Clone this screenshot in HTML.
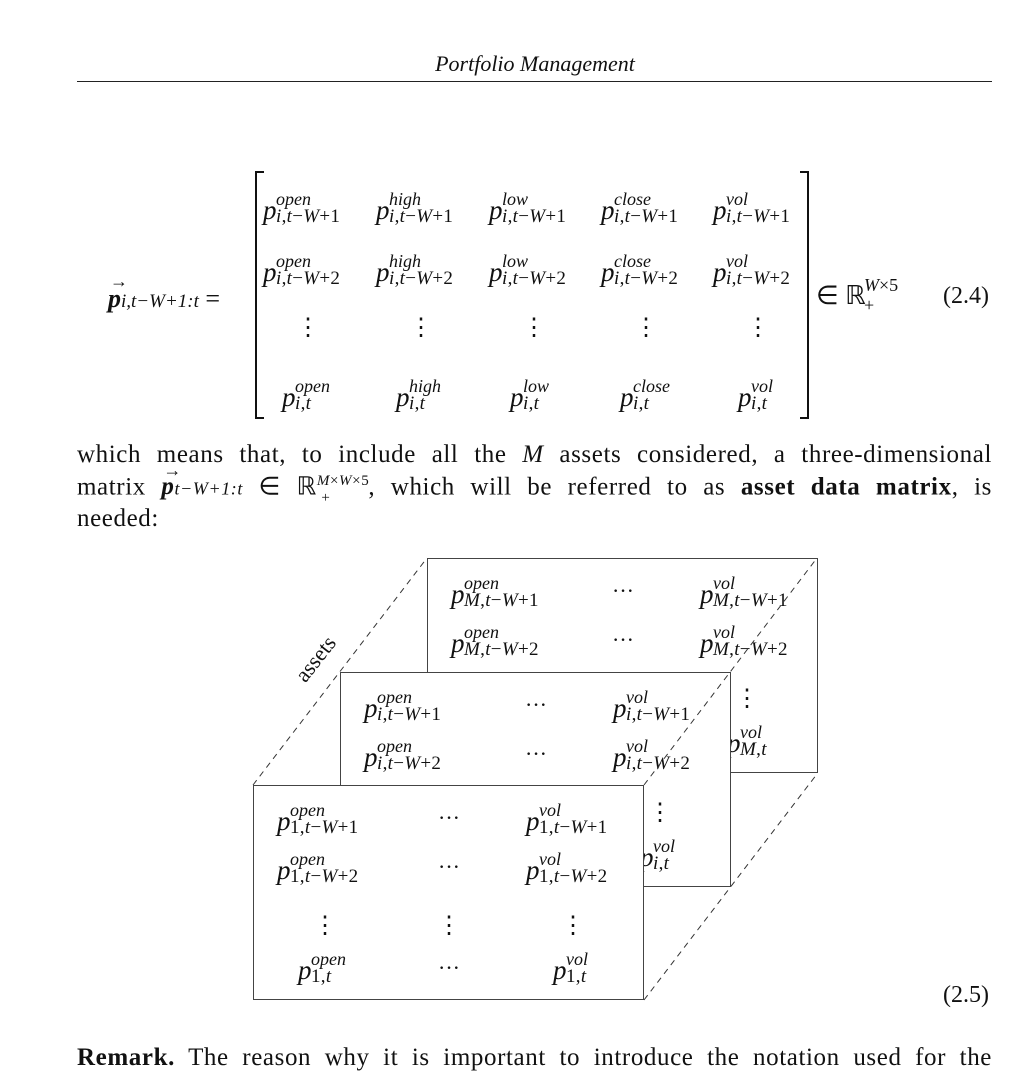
<!DOCTYPE html>
<html><head><meta charset="utf-8">
<style>
body{margin:0;width:1034px;height:1064px;background:#fff;overflow:hidden;position:relative;font-family:"Liberation Serif",serif;color:#111}
.a{position:absolute;white-space:nowrap}
.e{position:absolute;width:0;height:0}
.e .p{position:absolute;left:0;top:-21px;font-size:27px;font-style:italic;line-height:1}
.e .sp{position:absolute;left:13px;top:-28px;font-size:18px;font-style:italic;line-height:1}
.e .sb{position:absolute;left:13px;top:-11px;font-size:19px;line-height:1;letter-spacing:0.3px}
.box{position:absolute;width:389px;height:213px;border:1.3px solid #444;background:#fff;overflow:hidden}
.dots{position:absolute;font-size:22px;line-height:1;transform:translate(-50%,-50%)}
.vd{position:absolute;font-size:24px;line-height:1;transform:translate(-50%,-50%)}
.vec{position:relative;display:inline-block;font-weight:bold;font-style:italic}
.vec .ar{position:absolute;left:2px;top:-13px;font-size:18px;font-style:normal;font-weight:normal}
.line{position:absolute;left:77px;width:915px;font-size:25px;letter-spacing:0.6px;text-align:justify;text-align-last:justify;white-space:nowrap;line-height:1}
</style></head><body>
<div class="a" style="left:0;width:1070px;text-align:center;top:51px;font-size:22px;font-style:italic">Portfolio Management</div>
<div class="a" style="left:77px;top:81px;width:915px;height:1px;background:#222"></div>

<div class="a" style="left:108px;top:284px;font-size:26px"><span class="vec">p<span class="ar">→</span></span><span style="font-size:19px;font-style:italic">i,t−W+1:t</span> =</div>
<svg class="a" style="left:0;top:0" width="1034" height="1064">
<path d="M264 172 H256 V418 H264" fill="none" stroke="#111" stroke-width="2"/>
<path d="M800 172 H808 V418 H800" fill="none" stroke="#111" stroke-width="2"/>
</svg>
<div id="matrix"></div>
<div class="a" style="left:816px;top:281px;font-size:26px">∈ ℝ<span style="position:absolute;left:48px;top:-6px;font-size:18px"><i>W</i>×5</span><span style="position:absolute;left:48px;top:14px;font-size:18px">+</span></div>
<div class="a" style="left:943px;top:283px;font-size:24px">(2.4)</div>

<div class="line" style="top:442px">which means that, to include all the <i>M</i> assets considered, a three-dimensional</div>
<div class="line" style="top:474px">matrix <span class="vec">p<span class="ar">→</span></span><span style="font-size:18px;font-style:italic">t−W+1:t</span> ∈ ℝ<sup style="font-size:15px"><i>M</i>×<i>W</i>×5</sup><span style="font-size:15px;position:relative;left:-48px;top:8px;margin-right:-10px">+</span>, which will be referred to as <b>asset data matrix</b>, is</div>
<div class="a" style="left:77px;top:506px;font-size:25px;letter-spacing:0.6px;line-height:1">needed:</div>

<div id="fig"></div>
<svg class="a" style="left:0;top:0;z-index:5" width="1034" height="1064">
<g stroke="#333" stroke-width="1" stroke-dasharray="6,5" fill="none">
<line x1="253" y1="785" x2="427" y2="558"/>
<line x1="644" y1="785" x2="817" y2="558"/>
<line x1="644" y1="1000" x2="817" y2="774"/>
</g></svg>
<div class="a" style="left:290px;top:646px;font-size:22px;transform:rotate(-52deg);transform-origin:center">assets</div>
<div class="a" style="left:943px;top:982px;font-size:24px">(2.5)</div>
<div class="line" style="top:1045px"><b>Remark.</b> The reason why it is important to introduce the notation used for the</div>

<script>
function ent(parent,x,y,sup,sub){
  const d=document.createElement('div');d.className='e';d.style.left=x+'px';d.style.top=y+'px';
  
  
  d.innerHTML='<span class="p">p</span><span class="sp">'+sup+'</span><span class="sb">'+sub+'</span>';
  parent.appendChild(d);
}
function sym(parent,cls,x,y,t){
  const d=document.createElement('div');d.className=cls;d.style.left=x+'px';d.style.top=y+'px';d.textContent=t;
  
  
  parent.appendChild(d);
}
const it='<i>i</i>,<i>t</i>−<i>W</i>+';
const M=document.getElementById('matrix');
const cols=['open','high','low','close','vol'];
const cx=[263,376,489,601,713], lx=[282,396,510,620,738];
cols.forEach((c,k)=>{
  ent(M,cx[k],218,c,it+'1');
  ent(M,cx[k],280,c,it+'2');
  sym(M,'vd',cx[k]+45,328,'⋮');
  ent(M,lx[k],405,c,'<i>i</i>,<i>t</i>');
});
const F=document.getElementById('fig');
const boxes=[[427,558,'<i>M</i>'],[340,672,'<i>i</i>'],[253,785,'1']];
boxes.forEach(b=>{
  const bx=document.createElement('div');bx.className='box';bx.style.left=b[0]+'px';bx.style.top=b[1]+'px';
  
  
  const s=b[2]+',<i>t</i>−<i>W</i>+';
  ent(bx,23,43,'open',s+'1');ent(bx,23,92,'open',s+'2');
  ent(bx,272,43,'vol',s+'1');ent(bx,272,92,'vol',s+'2');
  sym(bx,'dots',195,32,'···');sym(bx,'dots',195,81,'···');sym(bx,'dots',195,182,'···');
  sym(bx,'vd',71,140,'⋮');sym(bx,'vd',195,140,'⋮');sym(bx,'vd',319,140,'⋮');
  ent(bx,44,192,'open',b[2]+',<i>t</i>');ent(bx,299,192,'vol',b[2]+',<i>t</i>');
  F.appendChild(bx);
});
</script>
</body></html>
